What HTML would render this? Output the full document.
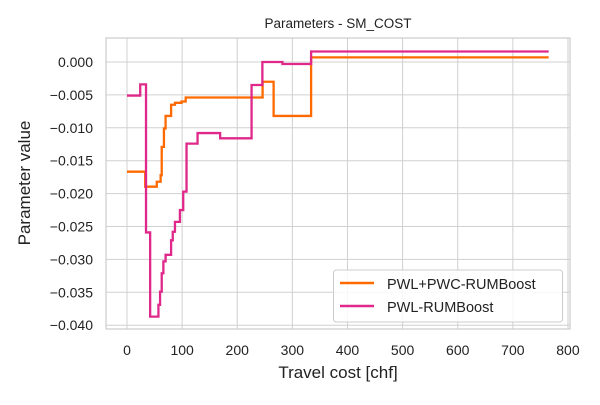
<!DOCTYPE html>
<html><head><meta charset="utf-8"><style>
body{margin:0;background:#fff;}
svg{font-family:"Liberation Sans","DejaVu Sans",sans-serif;}
</style></head><body>
<svg id="chart" width="600" height="400">
<text x="338" y="28" text-anchor="middle" font-size="13.5" fill="#222">Parameters - SM_COST</text>
<g id="grid"></g>
<rect x="106" y="38" width="464" height="291" fill="none" stroke="#ccc" stroke-width="1.2"/>
<g id="ticks"></g>
<g id="series"></g>
<text x="338" y="378" text-anchor="middle" font-size="17" fill="#222">Travel cost [chf]</text>
<text transform="translate(30,183) rotate(-90)" text-anchor="middle" font-size="17" fill="#222">Parameter value</text>
<g>
<rect x="333.5" y="270" width="229" height="52" rx="3" fill="#fff" fill-opacity="0.85" stroke="#ccc"/>
<line x1="340" y1="283" x2="374" y2="283" stroke="#ff6a00" stroke-width="2.5"/>
<text x="387" y="289" font-size="14.5" fill="#222">PWL+PWC-RUMBoost</text>
<line x1="340" y1="306" x2="374" y2="306" stroke="#e0288a" stroke-width="2.5"/>
<text x="387" y="312" font-size="14.5" fill="#222">PWL-RUMBoost</text>
</g>
</svg>
<script>
const xTicks=[0,100,200,300,400,500,600,700,800];
const yTicks=[0,-0.005,-0.01,-0.015,-0.02,-0.025,-0.03,-0.035,-0.04];
const yTickLabels=["0.000","\u22120.005","\u22120.010","\u22120.015","\u22120.020","\u22120.025","\u22120.030","\u22120.035","\u22120.040"];
const orangeX=[0,33,54,61,63,67,70,80,87,99,106.5,246,266,334,765];
const orangeY=[-0.01667,-0.01895,-0.0182,-0.0172,-0.0129,-0.0101,-0.0082,-0.0065,-0.0062,-0.0060,-0.0054,-0.0030,-0.0082,0.0007];
const magX=[0,24,34.5,42,57,60,63,66,70,80,83,87,96,102,108,128,169,226,245.6,282,334,765];
const magY=[-0.0051,-0.0034,-0.0259,-0.0387,-0.0369,-0.0349,-0.0321,-0.0303,-0.0293,-0.0271,-0.0258,-0.0243,-0.0225,-0.0197,-0.0124,-0.0108,-0.0116,-0.0035,0.0,-0.0003,0.0016];
const sx=v=>127+v*0.5512;
const sy=v=>62-v*6580;
const NS="http://www.w3.org/2000/svg";
const grid=document.getElementById('grid'),ticks=document.getElementById('ticks'),ser=document.getElementById('series');
function mk(tag,attrs,parent){const e=document.createElementNS(NS,tag);for(const k in attrs)e.setAttribute(k,attrs[k]);parent.appendChild(e);return e;}
xTicks.forEach(t=>{
 const g=mk('line',{x1:sx(t),x2:sx(t),y1:38,y2:329,stroke:'#d0d0d0','stroke-width':1},grid);
 
 
 const tx=mk('text',{x:sx(t),y:355,'text-anchor':'middle','font-size':14,fill:'#222'},ticks);
 tx.textContent=t;
 
 
});
yTicks.forEach((t,i)=>{
 const g=mk('line',{x1:106,x2:570,y1:sy(t),y2:sy(t),stroke:'#d0d0d0','stroke-width':1},grid);
 
 
 const tx=mk('text',{x:93,y:sy(t)+5,'text-anchor':'end','font-size':14,fill:'#222'},ticks);
 tx.textContent=yTickLabels[i];
 
 
});
function stepPath(xs,ys){
 let d='M'+sx(xs[0])+','+sy(ys[0]);
 for(let i=0;i<ys.length;i++){
  d+=' L'+sx(xs[i+1])+','+sy(ys[i]);
  if(i+1<ys.length)d+=' L'+sx(xs[i+1])+','+sy(ys[i+1]);
 }
 return d;
}
const p1=mk('path',{d:stepPath(orangeX,orangeY),fill:'none',stroke:'#ff6a00','stroke-width':2.3},ser);


const p2=mk('path',{d:stepPath(magX,magY),fill:'none',stroke:'#e0288a','stroke-width':2.3},ser);


</script>
</body></html>
